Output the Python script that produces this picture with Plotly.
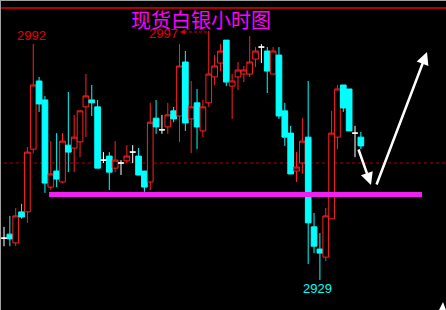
import plotly.graph_objects as go

# ---- data ----
opens = [2940.2, 2941.3, 2938.9, 2947.4, 2947.4, 2964.6, 2983.3, 2978.1, 2954.2, 2958.6,
         2955.6, 2965.7, 2964.9, 2966.6, 2976.2, 2978.1, 2976.2, 2961.6, 2962.7, 2959.4,
         2960.8, 2961.4, 2963.8, 2962.7, 2958.6, 2955.6, 2973.1, 2969.9, 2970.7, 2975.1,
         2973.7, 2988.5, 2972.9, 2977.3, 2969.6, 2977.3, 2984.4, 2988.2, 2994.5, 2981.9,
         2984.4, 2985.2, 2985.2, 2989.3, 2992.6, 2991.5, 2985.2, 2990.4, 2975.1, 2969.0,
         2958.6, 2960.8, 2967.9, 2943.3, 2937.2, 2935.0, 2945.5, 2967.9, 2982.2, 2981.1,
         2969.0, 2967.9]
highs = [2943.3, 2946.3, 2948.5, 2949.6, 2965.2, 2993.4, 2984.4, 2979.2, 2966.8, 2969.0,
         2969.0, 2980.3, 2974.0, 2975.1, 2985.2, 2982.2, 2978.1, 2963.8, 2963.8, 2966.8,
         2961.6, 2965.7, 2965.7, 2964.9, 2958.6, 2977.3, 2978.1, 2974.0, 2977.3, 2976.2,
         2993.4, 2991.5, 2983.3, 2981.1, 2978.1, 2997.0, 2990.4, 2993.4, 2994.5, 2985.2,
         2988.5, 2987.4, 2995.6, 2992.6, 2993.4, 2992.6, 2992.6, 2992.6, 2977.3, 2971.0,
         2963.8, 2973.1, 2983.3, 2947.1, 2941.6, 2948.5, 2975.1, 2982.2, 2982.2, 2981.1,
         2971.0, 2969.3]
lows = [2938.0, 2938.0, 2938.0, 2945.5, 2944.4, 2963.5, 2974.8, 2952.6, 2953.4, 2954.2,
        2955.3, 2958.3, 2958.3, 2962.4, 2967.9, 2973.7, 2959.4, 2960.8, 2953.4, 2958.3,
        2957.5, 2960.8, 2960.8, 2957.5, 2952.9, 2953.4, 2968.8, 2968.8, 2968.8, 2972.0,
        2966.6, 2969.6, 2963.5, 2964.6, 2967.9, 2976.2, 2982.2, 2986.0, 2981.9, 2972.9,
        2980.8, 2983.0, 2984.4, 2987.1, 2988.2, 2980.0, 2985.2, 2972.9, 2965.5, 2957.8,
        2955.6, 2957.8, 2933.1, 2936.1, 2928.7, 2933.9, 2945.5, 2964.6, 2974.8, 2969.6,
        2962.4, 2964.6]
closes = [2940.2, 2940.0, 2946.3, 2946.0, 2963.8, 2982.2, 2977.0, 2955.3, 2957.8, 2956.4,
          2966.8, 2963.8, 2967.9, 2975.1, 2979.2, 2977.3, 2959.4, 2961.6, 2958.3, 2961.6,
          2960.8, 2962.7, 2963.8, 2957.5, 2954.2, 2972.0, 2970.7, 2969.9, 2974.0, 2972.9,
          2987.4, 2971.8, 2976.2, 2970.7, 2976.2, 2985.2, 2987.4, 2991.5, 2983.0, 2983.3,
          2986.3, 2986.3, 2988.5, 2991.5, 2992.6, 2986.0, 2991.5, 2973.7, 2967.9, 2957.8,
          2959.7, 2966.8, 2944.4, 2938.0, 2936.1, 2946.3, 2969.0, 2981.1, 2975.9, 2969.6,
          2969.0, 2965.5]

title_text = "现货白银小时图"
label_high = "2992"
label_top = "2997"
label_low = "2929"
support_level = 2952.2
ref_level = 2960.8

W, H = 446, 310
n = len(opens)
idx = list(range(n))

body = [i for i in idx if opens[i] != closes[i]]
doji = [i for i in idx if opens[i] == closes[i]]

def sel(arr, ids):
    return [arr[i] for i in ids]

fig = go.Figure()
fig.add_trace(go.Candlestick(
    x=body, open=sel(opens, body), high=sel(highs, body),
    low=sel(lows, body), close=sel(closes, body),
    increasing=dict(line=dict(color="#ff2020", width=1), fillcolor="#000000"),
    decreasing=dict(line=dict(color="#00ffff", width=1), fillcolor="#00ffff"),
    whiskerwidth=0, showlegend=False, hoverinfo="skip"))
fig.add_trace(go.Candlestick(
    x=doji, open=sel(opens, doji), high=sel(highs, doji),
    low=sel(lows, doji), close=sel(closes, doji),
    increasing=dict(line=dict(color="#ffffff", width=1), fillcolor="#ffffff"),
    decreasing=dict(line=dict(color="#ffffff", width=1), fillcolor="#ffffff"),
    whiskerwidth=0, showlegend=False, hoverinfo="skip"))

def px(x):
    return x / W

def py(y):
    return 1 - y / H

shapes = [
    # top red line
    dict(type="line", xref="paper", yref="paper", x0=0, x1=1, y0=py(8), y1=py(8),
         line=dict(color="#b00000", width=2), layer="below"),
    # dashed red reference line
    dict(type="line", xref="paper", yref="y", x0=px(4), x1=1, y0=ref_level, y1=ref_level,
         line=dict(color="#b00000", width=1, dash="3px,3px"), layer="below"),
    # magenta support line
    dict(type="line", xref="paper", yref="y", x0=px(49), x1=px(422),
         y0=support_level, y1=support_level,
         line=dict(color="#f020f0", width=5), layer="above"),
    # dashed leader from 2997 high to label
    dict(type="line", xref="paper", yref="paper", x0=px(184), x1=px(209), y0=py(32), y1=py(32),
         line=dict(color="#e00000", width=1, dash="3px,2px"), layer="above"),
    dict(type="path", xref="paper", yref="paper",
         path=f"M {px(180)} {py(32)} L {px(185)} {py(29.5)} L {px(185)} {py(34.5)} Z",
         fillcolor="#e00000", line=dict(width=0), layer="above"),
    # left / top border
    dict(type="line", xref="paper", yref="paper", x0=px(0.5), x1=px(0.5), y0=0, y1=1,
         line=dict(color="#a0a0a0", width=1)),
    dict(type="line", xref="paper", yref="paper", x0=0, x1=1, y0=py(0.5), y1=py(0.5),
         line=dict(color="#a0a0a0", width=1)),
    # bottom-right small triangle
    dict(type="path", xref="paper", yref="paper",
         path=f"M {px(439)} {py(310)} L {px(443)} {py(302)} L {px(446)} {py(310)} Z",
         fillcolor="#ffffff", line=dict(width=0)),
]

annotations = [
    dict(text=title_text, xref="paper", yref="paper", x=px(201), y=py(19.5),
         xanchor="center", yanchor="middle", showarrow=False,
         font=dict(family="Noto Sans CJK SC", size=20, color="#ff00ff")),
    dict(text=label_high, xref="paper", yref="paper", x=px(31), y=py(35.5),
         xanchor="center", yanchor="middle", showarrow=False,
         font=dict(family="Liberation Sans", size=13, color="#e00000")),
    dict(text=label_top, xref="paper", yref="paper", x=px(163.5), y=py(34),
         xanchor="center", yanchor="middle", showarrow=False,
         font=dict(family="Liberation Sans", size=13, color="#e00000")),
    dict(text=label_low, xref="paper", yref="paper", x=px(317), y=py(288),
         xanchor="center", yanchor="middle", showarrow=False,
         font=dict(family="Liberation Sans", size=13, color="#00ffff")),
    # white arrows
    dict(text="", xref="paper", yref="paper", x=px(371), y=py(185),
         ax=-13, ay=-37, showarrow=True, arrowhead=2, arrowsize=1, arrowwidth=2.5,
         arrowcolor="#ffffff", standoff=0, startstandoff=0),
    dict(text="", xref="paper", yref="paper", x=px(427), y=py(52),
         ax=-51, ay=134, showarrow=True, arrowhead=2, arrowsize=1, arrowwidth=2.5,
         arrowcolor="#ffffff", standoff=0, startstandoff=0),
]

x_per_px = 1 / 5.85
fig.update_layout(
    width=W, height=H, margin=dict(l=0, r=0, t=0, b=0),
    paper_bgcolor="#000000", plot_bgcolor="#000000",
    boxgap=0.03, boxgroupgap=0,
    xaxis=dict(range=[-4 * x_per_px, (W - 4) * x_per_px], visible=False,
               rangeslider=dict(visible=False), fixedrange=True),
    yaxis=dict(range=[2920.5, 3005.5], visible=False, fixedrange=True),
    shapes=shapes, annotations=annotations, showlegend=False,
)

fig.write_html("out.html", config={"displayModeBar": False})
